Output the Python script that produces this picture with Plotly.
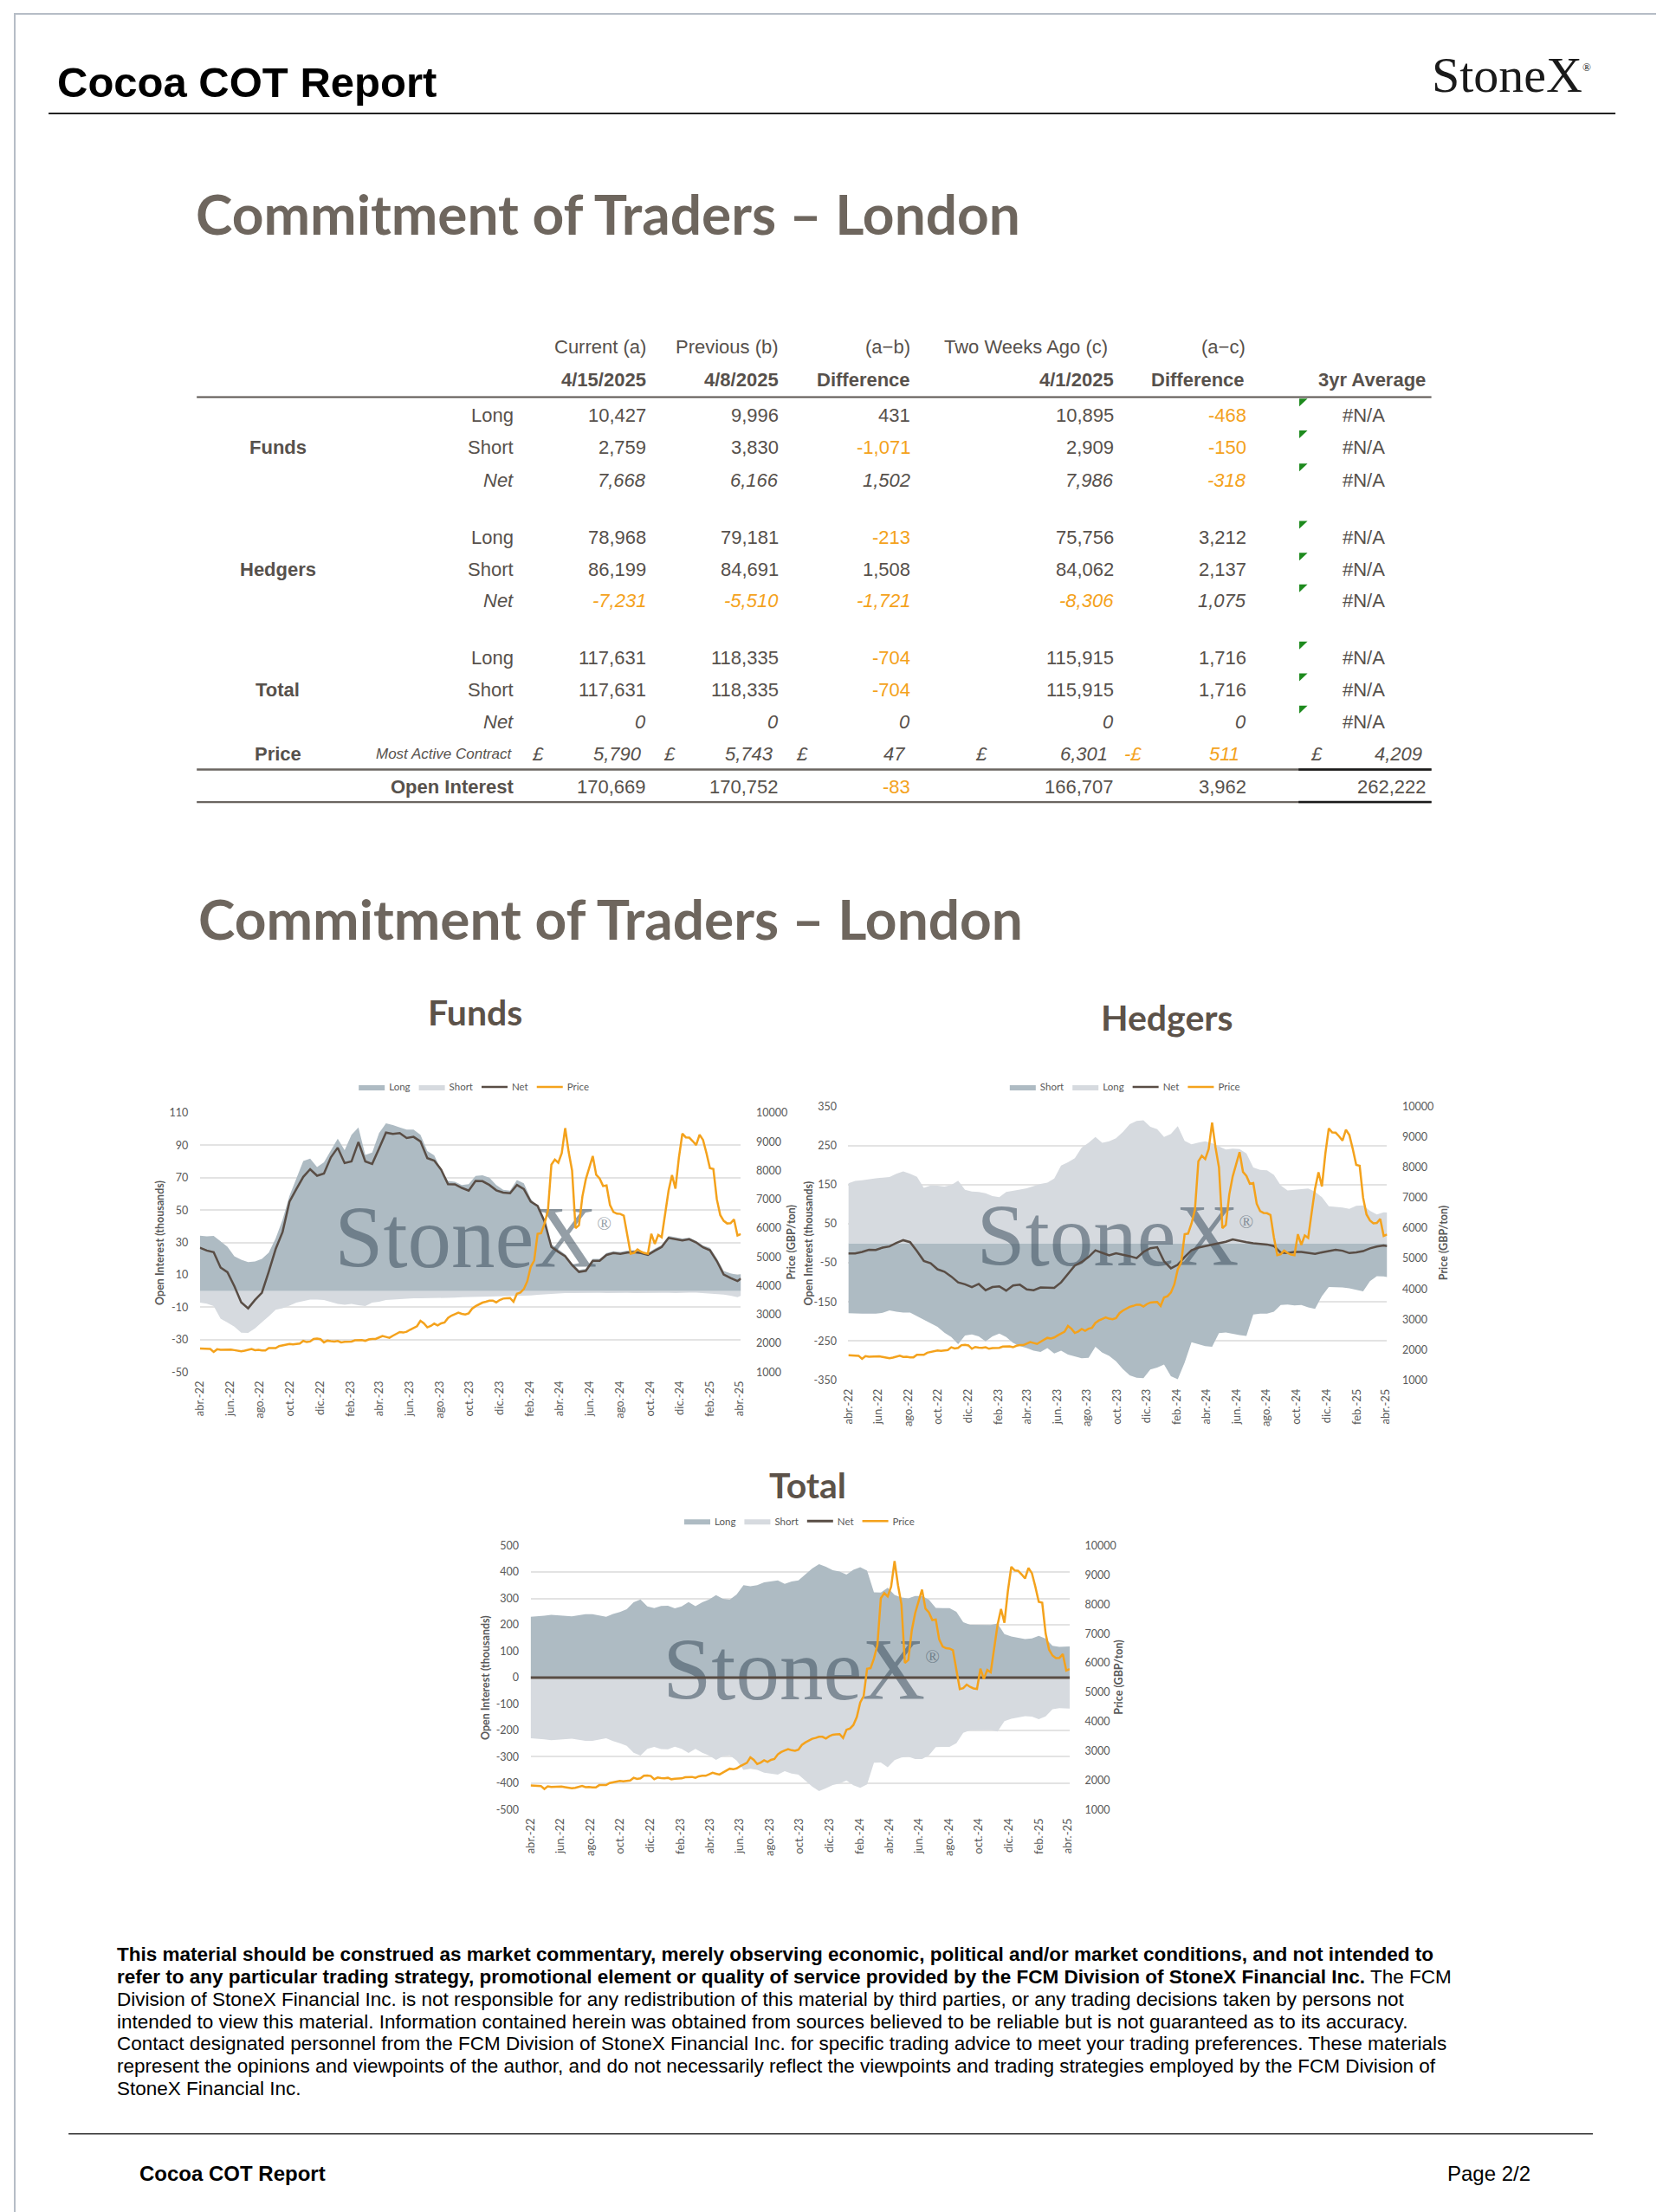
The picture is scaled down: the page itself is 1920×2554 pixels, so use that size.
import plotly.graph_objects as go
import pandas as pd

# ---------------------------------------------------------------- page geometry
# measured placement of the figure in the photographed page: screen = off + k * figure_px
W, H = 1920, 2554
OFF_X, K_X = 19.0, 0.990
OFF_Y, K_Y = 16.0, 0.9934
def px(x): return ((x - OFF_X) / K_X) / W
def py(y): return 1 - ((y - OFF_Y) / K_Y) / H

# ---------------------------------------------------------------- DATA
report_dates = pd.date_range(end="2025-04-15", periods=158, freq="7D")   # weekly COT dates
pos_idx = list(range(0, 157, 2)) + [157]                                  # sampled position weeks
pos_dates = report_dates[pos_idx]

tick_labels = ["abr.-22", "jun.-22", "ago.-22", "oct.-22", "dic.-22", "feb.-23", "abr.-23",
               "jun.-23", "ago.-23", "oct.-23", "dic.-23", "feb.-24", "abr.-24", "jun.-24",
               "ago.-24", "oct.-24", "dic.-24", "feb.-25", "abr.-25"]
tick_dates = [report_dates[0] + pd.DateOffset(months=2 * k) for k in range(len(tick_labels))]

price_gbp = [
    1820, 1810, 1800, 1800, 1700, 1790, 1770, 1780, 1770, 1780,
    1760, 1750, 1720, 1740, 1760, 1800, 1760, 1770, 1750, 1750,
    1830, 1840, 1830, 1900, 1930, 1940, 1975, 1960, 1980, 1990,
    2080, 2040, 2060, 2150, 2160, 2140, 2030, 2090, 2070, 2060,
    2080, 2030, 2050, 2050, 2060, 2100, 2110, 2110, 2080, 2130,
    2150, 2150, 2200, 2250, 2220, 2190, 2260, 2330, 2390, 2370,
    2400, 2470, 2520, 2590, 2780, 2690, 2550, 2600, 2680, 2620,
    2690, 2720, 2880, 2960, 3010, 3060, 3020, 3000, 3040, 3200,
    3285, 3360, 3410, 3440, 3480, 3480, 3420, 3500, 3550, 3560,
    3570, 3440, 3720, 3760, 3880, 4150, 4650, 4870, 5800, 5820,
    6150, 6610, 8200, 8380, 8270, 8600, 9470, 8650, 8000, 6000,
    6100, 7100, 7700, 8100, 8500, 7850, 7720, 7460, 7480, 6800,
    6560, 6500, 6490, 6430, 5700, 5110, 5140, 5260, 5180, 5130,
    5110, 5800, 5450, 5760, 5680, 6500, 7300, 7840, 7370, 8450,
    9280, 9150, 9140, 9020, 8880, 9240, 9060, 8600, 8080, 8050,
    7000, 6450, 6250, 6160, 6170, 6301, 5743, 5790]

funds_long = [
    34.2, 33.8, 34.0, 30.8, 27.4, 21.4, 19.3, 17.8, 18.3, 19.8,
    23.8, 32.5, 44.0, 58.8, 69.5, 80.3, 81.8, 76.5, 79.5, 87.0,
    94.0, 87.0, 96.5, 101.0, 84.0, 85.5, 97.5, 103.5, 102.5, 101.0,
    99.7, 99.7, 96.5, 86.4, 83.7, 75.0, 68.0, 67.5, 65.5, 66.0,
    71.0, 71.4, 70.0, 65.5, 62.5, 62.0, 68.5, 66.5, 57.0, 51.5,
    42.5, 29.0, 25.7, 22.7, 17.3, 13.0, 13.7, 19.9, 19.9, 23.5,
    24.6, 24.1, 24.9, 25.2, 24.7, 23.5, 26.1, 28.4, 34.0, 33.4,
    32.4, 33.0, 31.0, 28.2, 26.7, 20.3, 12.4, 10.9, 10.0, 10.4]
funds_short = [
    -7.1, -7.8, -9.3, -17.0, -19.5, -22.0, -25.7, -25.8, -23.0, -19.4,
    -15.5, -11.5, -10.6, -9.0, -7.2, -6.2, -5.3, -5.3, -5.6, -6.8,
    -8.0, -8.5, -8.0, -8.8, -9.3, -7.1, -6.6, -5.5, -5.2, -5.0,
    -4.8, -4.5, -4.5, -4.5, -4.3, -4.1, -4.1, -4.1, -3.8, -3.6,
    -3.6, -3.5, -3.4, -3.3, -3.2, -3.2, -3.2, -3.0, -2.7, -2.3,
    -2.0, -1.8, -1.5, -1.2, -1.3, -1.2, -1.4, -1.2, -1.1, -1.3,
    -1.2, -1.0, -1.1, -1.3, -1.2, -1.1, -1.2, -1.0, -1.1, -1.2,
    -1.0, -1.0, -1.0, -1.2, -1.5, -1.8, -2.2, -2.9, -3.8, -2.8]
funds_net = [
    26.7, 25.0, 24.0, 14.5, 11.6, 3.0, -7.0, -10.7, -5.5, -1.0,
    12.0, 26.0, 36.5, 55.2, 63.0, 70.5, 75.2, 71.2, 72.5, 82.5,
    88.5, 79.0, 80.0, 92.0, 80.0, 78.5, 88.0, 97.8, 97.0, 97.5,
    94.5, 95.2, 92.4, 82.0, 80.5, 75.0, 66.0, 65.9, 63.7, 62.0,
    68.0, 67.8, 65.5, 62.2, 60.8, 60.4, 65.5, 63.0, 55.2, 52.5,
    43.0, 27.2, 24.2, 21.5, 16.0, 11.8, 12.5, 18.7, 18.7, 22.3,
    23.4, 22.9, 23.7, 24.0, 23.5, 22.3, 24.9, 27.2, 32.8, 32.2,
    31.2, 32.0, 30.0, 27.0, 25.2, 18.5, 10.2, 8.0, 6.2, 7.7]

hedgers_long = [
    153.7, 159.6, 161.5, 164.8, 166.5, 168, 169.5, 178, 184, 178,
    170, 142, 147.8, 147.5, 145, 149, 160, 137, 132.5, 131.6,
    127.9, 121, 118, 131.6, 135.3, 137.5, 141, 147, 152, 155,
    166, 199, 207.5, 218, 245, 257, 272, 257, 261, 269,
    285, 305, 313, 315, 298, 292, 272, 280, 300, 262,
    253.5, 258, 261, 256, 248, 240, 242, 241, 230, 194,
    188, 187, 175, 148, 135.3, 137, 139.5, 140, 132, 118,
    94.6, 93.5, 91.5, 88, 96, 97, 83, 74, 79.2, 79.0]
hedgers_short = [
    -179, -180, -180, -180, -180, -178, -171.5, -175, -177.4, -177,
    -186, -195, -204, -214, -229, -240, -258, -236, -233, -238,
    -251, -238, -231, -240, -255, -263, -268, -275, -278, -268,
    -282, -275, -285, -289, -294, -293, -265, -280, -288, -302,
    -322, -338, -344, -345, -323, -318, -310, -340, -348, -305,
    -253, -258, -263, -265, -230, -228, -232, -235, -237, -182,
    -180, -180, -175, -158, -157, -159, -158, -164, -168, -135,
    -112, -112, -113, -115, -119, -123, -97, -84, -84.7, -86.2]
hedgers_net = [
    -25.9, -26, -22, -16.5, -17, -11, -8, 1, 8, 3,
    -20, -45, -51, -66.5, -72.5, -85, -100, -105, -112, -104,
    -120, -112, -110, -121, -108, -106, -118, -120, -113, -113,
    -114, -100, -78, -57, -48, -35, -18, -24.5, -31, -25.5,
    -29, -33, -38, -22, -12.5, -10, -46, -64, -55, -35,
    -18, -11, -7, -3, 0, 4, 10, 6, 3, 0,
    -1, -3, -7, -24, -25, -22, -22, -24, -27, -23,
    -20, -16.5, -19, -25, -23, -20, -13, -8.3, -5.5, -7.2]

total_long = [
    230, 231, 234, 237.5, 236, 233, 232, 236, 240, 240,
    235, 230, 241, 248.6, 259, 285, 296, 270, 263, 271,
    272, 262, 270, 286, 270.5, 285, 296, 312, 298, 295,
    315, 350, 346, 350, 361, 365, 368, 355, 364, 368,
    390, 413, 430, 420, 407, 402, 390, 408, 418, 405,
    323, 322, 340, 313, 303, 300, 309, 309, 295, 264,
    263, 263, 249, 210, 200, 199, 200, 199, 205, 165,
    156, 151, 146, 148, 158, 147, 120, 115.9, 118.3, 117.6]
total_short = [-v for v in total_long]                      # total short == total long
total_net = [l + s for l, s in zip(total_long, total_short)]  # = 0

funds_ticks = ["-50", "-30", "-10", "10", "30", "50", "70", "90", "110"]
hedgers_ticks = ["-350", "-250", "-150", "-50", "50", "150", "250", "350"]
total_ticks = ["-500", "-400", "-300", "-200", "-100", "0", "100", "200", "300", "400", "500"]
price_ticks = ["1000", "2000", "3000", "4000", "5000", "6000", "7000", "8000", "9000", "10000"]

# table data
col_head1 = ["Current (a)", "Previous (b)", "(a\u2212b)", "Two Weeks Ago (c)", "(a\u2212c)"]
col_head2 = ["4/15/2025", "4/8/2025", "Difference", "4/1/2025", "Difference", "3yr Average"]
groups = ["Funds", "Hedgers", "Total"]
sub_rows = ["Long", "Short", "Net"]
funds_tbl = [[10427, 9996, 431, 10895, -468],
             [2759, 3830, -1071, 2909, -150],
             [7668, 6166, 1502, 7986, -318]]
hedgers_tbl = [[78968, 79181, -213, 75756, 3212],
               [86199, 84691, 1508, 84062, 2137],
               [-7231, -5510, -1721, -8306, 1075]]
total_tbl = [[117631, 118335, -704, 115915, 1716],
             [117631, 118335, -704, 115915, 1716],
             [0, 0, 0, 0, 0]]
avg_3yr_text = "#N/A"
price_row = [5790, 5743, 47, 6301, -511, 4209]
oi_row = [170669, 170752, -83, 166707, 3962, 262222]

disclaimer_bold = [
    "This material should be construed as market commentary, merely observing economic, political and/or market conditions, and not intended to",
    "refer to any particular trading strategy, promotional element or quality of service provided by the FCM Division of StoneX Financial Inc.",
]
disclaimer_lines = [
    " The FCM",
    "Division of StoneX Financial Inc. is not responsible for any redistribution of this material by third parties, or any trading decisions taken by persons not",
    "intended to view this material. Information contained herein was obtained from sources believed to be reliable but is not guaranteed as to its accuracy.",
    "Contact designated personnel from the FCM Division of StoneX Financial Inc. for specific trading advice to meet your trading preferences. These materials",
    "represent the opinions and viewpoints of the author, and do not necessarily reflect the viewpoints and trading strategies employed by the FCM Division of",
    "StoneX Financial Inc.",
]

# ---------------------------------------------------------------- STYLE
GREY = "#57514c"
ORANGE = "#F4A21C"
DARK_AREA = "#aebbc3"
LIGHT_AREA = "#d6dadf"
NET_COL = "#594d45"
GRID = "#e3e3e3"
TITLE_COL = "#6e665e"
CH_TITLE = "#5c5249"
AX_TXT = "#595959"
WM_COL = "rgba(60,78,92,0.55)"
CHART_FONT = "Lato"
TABLE_FONT = "Liberation Sans"
TRANSP = "rgba(0,0,0,0)"

fig = go.Figure()
annotations = []
shapes = []


def ann(x, y, text, size, color=GREY, xanchor="right", family=TABLE_FONT,
        weight="normal", style="normal", yanchor="middle", textangle=0):
    annotations.append(dict(
        x=px(x), y=py(y), xref="paper", yref="paper", text=text, showarrow=False,
        xanchor=xanchor, yanchor=yanchor, textangle=textangle, borderpad=0,
        font=dict(family=family, size=size, color=color, weight=weight, style=style)))


def hline(x0, x1, y, color, width):
    shapes.append(dict(type="line", xref="paper", yref="paper",
                       x0=px(x0), x1=px(x1), y0=py(y), y1=py(y),
                       line=dict(color=color, width=width)))


# ---------------------------------------------------------------- CHARTS
charts = [
    dict(xa="x", ya="y", yb="y2", legend="legend",
         dom_x=(232.3, 855.6), dom_y=(1284, 1583),
         areas=[("Long", funds_long, DARK_AREA), ("Short", funds_short, LIGHT_AREA)],
         net=funds_net, ticks=funds_ticks,
         legend_xy=(548, 1254), wm=(0.505, 0.49),
         title=("Funds", 549, 1168), ltitle_x=186, rtitle_x=914),
    dict(xa="x2", ya="y3", yb="y4", legend="legend2",
         dom_x=(979.3, 1600), dom_y=(1276.7, 1592.3),
         areas=[("Short", hedgers_short, DARK_AREA), ("Long", hedgers_long, LIGHT_AREA)],
         net=hedgers_net, ticks=hedgers_ticks,
         legend_xy=(1298, 1254), wm=(0.495, 0.5),
         title=("Hedgers", 1347, 1174), ltitle_x=934, rtitle_x=1665),
    dict(xa="x3", ya="y5", yb="y6", legend="legend3",
         dom_x=(613.3, 1234.3), dom_y=(1783.3, 2087.7),
         areas=[("Long", total_long, DARK_AREA), ("Short", total_short, LIGHT_AREA)],
         net=total_net, ticks=total_ticks,
         legend_xy=(923, 1755), wm=(0.502, 0.5),
         title=("Total", 932, 1713), ltitle_x=562, rtitle_x=1291),
]

WM_TEXT = "StoneX<sup><span style='font-size:22px'>\u00ae</span></sup>"

layout_axes = {}
for c in charts:
    lo, hi = float(c["ticks"][0]), float(c["ticks"][-1])
    for name, vals, col in c["areas"]:
        fig.add_trace(go.Scatter(
            x=pos_dates, y=vals, name=name, mode="lines", fill="tozeroy",
            fillcolor=col, line=dict(width=0, color=col), legend=c["legend"],
            xaxis=c["xa"], yaxis=c["ya"], hoverinfo="skip"))
    # watermark (between areas and lines)
    fx, fy = c["wm"]
    wm_x = report_dates[0] + (report_dates[-1] - report_dates[0]) * fx
    wm_y = lo + (hi - lo) * fy
    fig.add_trace(go.Scatter(
        x=[wm_x], y=[wm_y], mode="text", text=[WM_TEXT],
        textposition="middle center",
        textfont=dict(family="Liberation Serif", size=101, color=WM_COL),
        showlegend=False, hoverinfo="skip", xaxis=c["xa"], yaxis=c["ya"]))
    fig.add_trace(go.Scatter(
        x=pos_dates, y=c["net"], name="Net", mode="lines",
        line=dict(color=NET_COL, width=3 if c["xa"] == "x3" else 2.5),
        legend=c["legend"], xaxis=c["xa"], yaxis=c["ya"], hoverinfo="skip"))
    fig.add_trace(go.Scatter(
        x=report_dates, y=price_gbp, name="Price", mode="lines",
        line=dict(color=ORANGE, width=2.5), legend=c["legend"],
        xaxis=c["xa"], yaxis=c["yb"], hoverinfo="skip"))

    xkey = "xaxis" + c["xa"][1:]
    ykey = "yaxis" + c["ya"][1:]
    y2key = "yaxis" + c["yb"][1:]
    tickf = dict(family=CHART_FONT, size=12.5, color=AX_TXT)
    layout_axes[xkey] = dict(
        domain=[px(c["dom_x"][0]), px(c["dom_x"][1])], anchor=c["ya"], type="date",
        range=[report_dates[0], report_dates[-1]], tickvals=tick_dates, ticktext=tick_labels,
        tickangle=-90, tickfont=dict(family=CHART_FONT, size=13, color=AX_TXT),
        showgrid=False, zeroline=False, showline=False, ticks="outside", ticklen=4,
        tickcolor=TRANSP, fixedrange=True)
    layout_axes[ykey] = dict(
        domain=[py(c["dom_y"][1]), py(c["dom_y"][0])], anchor=c["xa"], range=[lo, hi],
        tickvals=[float(t) for t in c["ticks"]], ticktext=c["ticks"], showgrid=True,
        gridcolor=GRID, gridwidth=1.5, zeroline=False, showline=False, tickfont=tickf,
        ticks="outside", ticklen=10, tickcolor=TRANSP, fixedrange=True)
    layout_axes[y2key] = dict(
        overlaying=c["ya"], side="right", anchor=c["xa"], range=[1000, 10000],
        tickvals=[float(t) for t in price_ticks], ticktext=price_ticks, showgrid=False,
        zeroline=False, showline=False, tickfont=tickf, ticks="outside", ticklen=14,
        tickcolor=TRANSP, fixedrange=True)
    layout_axes[c["legend"]] = dict(
        orientation="h", x=px(c["legend_xy"][0]), y=py(c["legend_xy"][1]),
        xanchor="center", yanchor="middle", bgcolor=TRANSP, itemwidth=30,
        font=dict(family=CHART_FONT, size=11.5, color=AX_TXT), traceorder="normal")

    t, tx, ty = c["title"]
    ann(tx, ty, t, 41, CH_TITLE, "center", CHART_FONT, weight="bold")
    ymid = (c["dom_y"][0] + c["dom_y"][1]) / 2
    ann(c["ltitle_x"], ymid, "Open Interest (thousands)", 12.5, AX_TXT, "center",
        CHART_FONT, weight="bold", textangle=-90)
    ann(c["rtitle_x"], ymid, "Price (GBP/ton)", 12.5, AX_TXT, "center",
        CHART_FONT, weight="bold", textangle=-90)

# ---------------------------------------------------------------- HEADER / TITLES
ann(67, 95, "Cocoa COT Report", 49, "#000000", "left", "Liberation Sans", weight="bold")
ann(1836, 86, "StoneX<sup><span style='font-size:13px'>\u00ae</span></sup>", 58, "#1a1a1a",
    "right", "Liberation Serif")
hline(58, 1863, 131, "#222222", 2)
ann(227, 246, "Commitment of Traders \u2013 London", 64, TITLE_COL, "left", CHART_FONT, weight="bold")
ann(230, 1060, "Commitment of Traders \u2013 London", 64, TITLE_COL, "left", CHART_FONT, weight="bold")

# ---------------------------------------------------------------- TABLE
TS = 22
head1_x = [746.9, 899.6, 1051.5, 1279, 1437.7]
head2_x = [746.9, 899.6, 1051.5, 1286, 1436.8, 1645]
val_x = [746.9, 899.6, 1051.5, 1286, 1438.5]
for t, x in zip(col_head1, head1_x):
    ann(x, 400.4, t, TS, GREY)
for t, x in zip(col_head2, head2_x):
    ann(x, 437.9, t, TS, GREY, weight="bold")
hline(228.7, 1651, 458.2, "#5a5550", 2.2)

row_y = [[478.9, 515.7, 553.9], [620, 656.8, 693.2], [759.3, 796, 833.2]]
for g, tbl, ys in zip(groups, [funds_tbl, hedgers_tbl, total_tbl], row_y):
    ann(322, ys[1], g, TS, GREY, "center", weight="bold")
    for r, (lab, vals, y) in enumerate(zip(sub_rows, tbl, ys)):
        style = "italic" if lab == "Net" else "normal"
        ann(594.7, y, lab, TS, GREY, style=style)
        for v, x in zip(vals, val_x):
            ann(x, y, f"{v:,}", TS, ORANGE if v < 0 else GREY, style=style)
        ann(1598.4, y, avg_3yr_text, TS, GREY)
        # green comment markers
        x0, x1, yt = 1498.8, 1508.3, y - 19
        shapes.append(dict(type="path", xref="paper", yref="paper",
                           path=f"M {px(x0)},{py(yt)} L {px(x1)},{py(yt)} L {px(x0)},{py(yt + 9)} Z",
                           fillcolor="#1d8a1d", line=dict(width=0)))

# price row
ann(322, 870, "Price", TS, GREY, "center", weight="bold")
ann(593, 870, "Most Active Contract", 17, GREY, style="italic")
pound_x = [613.6, 765.3, 918, 1125, 1295.7, 1511]
price_val_x = [742, 893.8, 1046, 1279, 1431, 1641]
for v, xp, xv in zip(price_row, pound_x, price_val_x):
    neg = v < 0
    ann(xp, 870, "-\u00a3" if neg else "\u00a3", TS, ORANGE if neg else GREY, "left", style="italic")
    ann(xv, 870, f"{abs(v):,}", TS, ORANGE if neg else GREY, style="italic")
hline(228.7, 1651, 887.9, "#6a6560", 2.6)
hline(1498, 1651, 887.9, "#1a1a1a", 2.6)

# open interest row
ann(594.7, 908.2, "Open Interest", TS, GREY, weight="bold")
oi_x = val_x + [1646]
for v, x in zip(oi_row, oi_x):
    ann(x, 908.2, f"{v:,}", TS, ORANGE if v < 0 else GREY)
hline(228.7, 1651, 925.4, "#6a6560", 2.2)
hline(1498, 1651, 925.4, "#1a1a1a", 2.4)

# ---------------------------------------------------------------- DISCLAIMER / FOOTER
DS = 22.5
line_y = [2255, 2281, 2307, 2333, 2358, 2384, 2410]
ann(136, line_y[0], "<b>" + disclaimer_bold[0] + "</b>", DS, "#000000", "left")
ann(136, line_y[1], "<b>" + disclaimer_bold[1] + "</b>" + disclaimer_lines[0], DS, "#000000", "left")
for t, y in zip(disclaimer_lines[1:], line_y[2:]):
    ann(136, y, t, DS, "#000000", "left")
hline(81, 1837, 2462, "#333333", 1.6)
ann(162, 2508, "Cocoa COT Report", 24, "#000000", "left", weight="bold")
ann(1766, 2508, "Page 2/2", 24, "#000000", "right")

# page frame
shapes.append(dict(type="rect", xref="paper", yref="paper", x0=0, x1=1, y0=0, y1=1,
                   line=dict(color="#b6bdc6", width=2), fillcolor=TRANSP))

fig.update_layout(
    width=W, height=H, autosize=False, margin=dict(l=0, r=0, t=0, b=0, pad=0),
    paper_bgcolor="white", plot_bgcolor="white", hovermode=False,
    annotations=annotations, shapes=shapes, **layout_axes)

fig.write_html("out.html")
